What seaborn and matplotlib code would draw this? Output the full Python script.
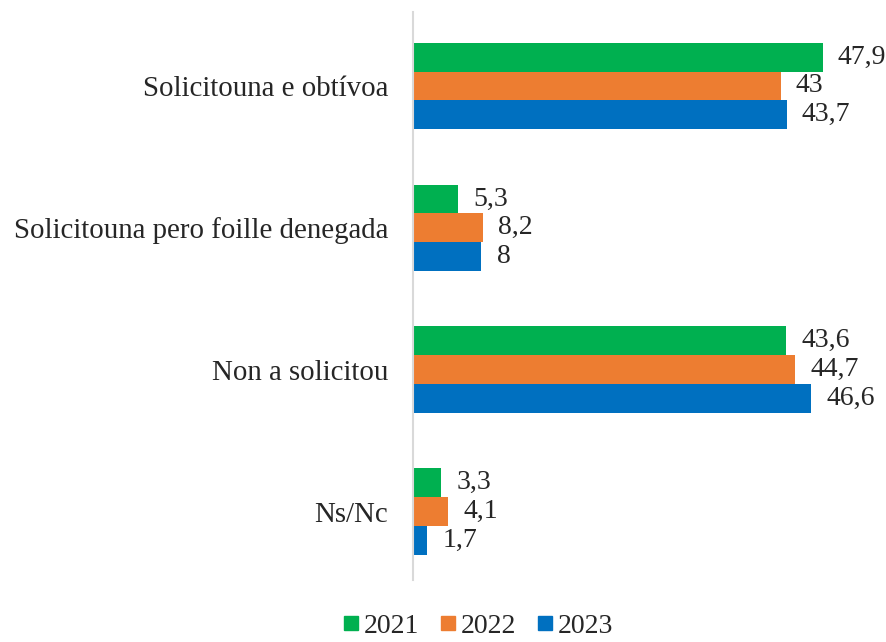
import pandas as pd
import numpy as np
import matplotlib
matplotlib.use("Agg")
import matplotlib.pyplot as plt
import seaborn as sns
from matplotlib.lines import Line2D

# datos
categorias = ["Solicitouna e obtívoa", "Solicitouna pero foille denegada",
              "Non a solicitou", "Ns/Nc"]
anos = ["2021", "2022", "2023"]
v2021 = [47.9, 5.3, 43.6, 3.3]
v2022 = [43, 8.2, 44.7, 4.1]
v2023 = [43.7, 8, 46.6, 1.7]
cores = ["#00B050", "#ED7D31", "#0070C0"]

df = pd.DataFrame({
    "categoria": categorias * 3,
    "ano": [a for a in anos for _ in categorias],
    "valor": v2021 + v2022 + v2023,
})

sns.set_style("white")
plt.rcParams["font.family"] = ["Liberation Serif", "DejaVu Serif"]

fig = plt.figure(figsize=(8.86, 6.42), dpi=100)
ax = fig.add_axes([0.466, 0.097, 0.50, 0.884])

sns.barplot(data=df, y="categoria", x="valor", hue="ano", orient="h",
            palette=cores, width=0.61, ax=ax, legend=False,
            saturation=1, edgecolor="none")

for cont in ax.containers:
    ax.bar_label(cont, labels=[f"{v:g}".replace(".", ",") for v in cont.datavalues],
                 padding=11, fontsize=20)

ax.set_xlim(0, 51.8)
ax.set_ylim(3.48, -0.52)
ax.set_xlabel("")
ax.set_ylabel("")
ax.set_xticks([])
ax.tick_params(axis="y", length=0, pad=18, labelsize=20.8)
for s in ["top", "right", "bottom"]:
    ax.spines[s].set_visible(False)
ax.spines["left"].set_color("#D9D9D9")
ax.spines["left"].set_linewidth(1.5)

handles = [Line2D([], [], marker="s", linestyle="none", markersize=10,
                  color=c) for c in cores]
fig.legend(handles, anos, loc="center", ncol=3, frameon=False,
           bbox_to_anchor=(0.54, 0.025), fontsize=20, handletextpad=0.2,
           handlelength=0.5, columnspacing=0.8)

plt.savefig("out.png", dpi=100)
plt.close()
